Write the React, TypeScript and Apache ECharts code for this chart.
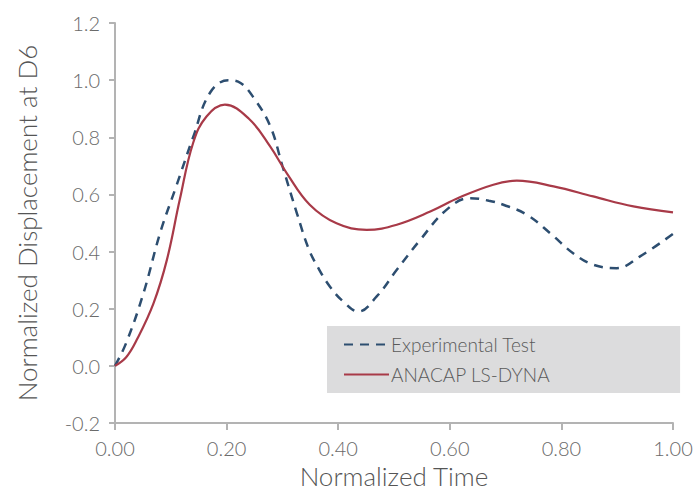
import React, { useEffect, useRef } from "react";
import * as echarts from "echarts";

const xTicks = [0, 0.2, 0.4, 0.6, 0.8, 1.0];
const yTicks = [-0.2, 0, 0.2, 0.4, 0.6, 0.8, 1.0, 1.2];

const experimentalTest: [number, number][] = [
  [0, 0], [0.02, 0.08], [0.051, 0.254], [0.081, 0.466], [0.11, 0.63], [0.14, 0.8],
  [0.17, 0.955], [0.203, 1.0], [0.225, 0.99], [0.248, 0.94], [0.278, 0.84], [0.3, 0.7],
  [0.326, 0.534], [0.347, 0.41], [0.365, 0.34], [0.385, 0.278], [0.409, 0.225],
  [0.436, 0.19], [0.469, 0.243], [0.505, 0.336], [0.547, 0.441], [0.594, 0.546],
  [0.636, 0.587], [0.67, 0.578], [0.696, 0.564], [0.738, 0.529], [0.78, 0.464],
  [0.821, 0.394], [0.857, 0.354], [0.899, 0.342], [0.941, 0.383], [1.0, 0.462],
];

const anacapLsDyna: [number, number][] = [
  [0, 0], [0.02, 0.03], [0.039, 0.091], [0.069, 0.219], [0.093, 0.371], [0.116, 0.581],
  [0.14, 0.78], [0.164, 0.873], [0.197, 0.914], [0.24, 0.865], [0.278, 0.768],
  [0.308, 0.674], [0.349, 0.564], [0.397, 0.499], [0.451, 0.476], [0.505, 0.494],
  [0.565, 0.54], [0.618, 0.59], [0.678, 0.634], [0.72, 0.648], [0.786, 0.628],
  [0.857, 0.593], [0.929, 0.558], [1.0, 0.537],
];

const FONT = "Lato, 'Open Sans', sans-serif";

export default function App() {
  const ref = useRef<HTMLDivElement>(null);
  useEffect(() => {
    if (!ref.current) return;
    const chart = echarts.init(ref.current, undefined, { renderer: "svg" });
    const axisLineStyle = { color: "#b3b3b3", width: 2 };
    chart.setOption({
      animation: false,
      backgroundColor: "#ffffff",
      grid: { left: 115, right: 21, top: 23, bottom: 68, containLabel: false, outerBoundsMode: "none" },
      legend: {
        orient: "vertical",
        left: 327,
        top: 326,
        backgroundColor: "#dcdcdd",
        padding: [9, 130, 9, 16],
        itemWidth: 45,
        itemHeight: 14,
        itemGap: 11,
        itemStyle: { opacity: 0 },
        textStyle: { color: "#5a5a5a", fontSize: 19, fontFamily: FONT, fontWeight: 300, padding: [0, 0, 0, -3] },
        data: ["Experimental Test", "ANACAP LS-DYNA"],
      },
      xAxis: {
        type: "value",
        min: 0,
        max: 1,
        interval: 0.2,
        name: "Normalized Time",
        nameLocation: "middle",
        nameGap: 39,
        nameTextStyle: { color: "#555", fontSize: 26, fontFamily: FONT, fontWeight: 300, lineHeight: 26 },
        axisLine: { show: true, onZero: false, lineStyle: axisLineStyle },
        axisTick: { show: true, length: 7, lineStyle: axisLineStyle },
        axisLabel: {
          color: "#6a6a6a",
          fontSize: 20,
          fontFamily: FONT,
          fontWeight: 300,
          margin: 15,
          formatter: (v: number) => v.toFixed(2),
          customValues: xTicks,
        },
        splitLine: { show: false },
      },
      yAxis: {
        type: "value",
        min: -0.2,
        max: 1.2,
        interval: 0.2,
        name: "Normalized Displacement at D6",
        nameLocation: "middle",
        nameGap: 75,
        nameTextStyle: { color: "#555", fontSize: 26, fontFamily: FONT, fontWeight: 300 },
        axisLine: { show: true, onZero: false, lineStyle: axisLineStyle },
        axisTick: { show: true, length: 6, lineStyle: axisLineStyle },
        axisLabel: {
          color: "#6a6a6a",
          fontSize: 20,
          fontFamily: FONT,
          fontWeight: 300,
          margin: 15,
          formatter: (v: number) => (Math.abs(v) < 1e-9 ? "0.0" : v.toFixed(1)),
          customValues: yTicks,
        },
        splitLine: { show: false },
      },
      series: [
        {
          name: "Experimental Test",
          type: "line",
          data: experimentalTest,
          smooth: 0.4,
          showSymbol: false,
          symbol: "none",
          lineStyle: { color: "#2d4e70", width: 2.5, type: [9, 7] },
          itemStyle: { color: "#2d4e70" },
        },
        {
          name: "ANACAP LS-DYNA",
          type: "line",
          data: anacapLsDyna,
          smooth: 0.4,
          showSymbol: false,
          symbol: "none",
          lineStyle: { color: "#a83a48", width: 2.2 },
          itemStyle: { color: "#a83a48" },
        },
      ],
    });
    return () => chart.dispose();
  }, []);
  return <div ref={ref} style={{ width: 694, height: 491, position: "absolute", left: 0, top: 0 }} />;
}
